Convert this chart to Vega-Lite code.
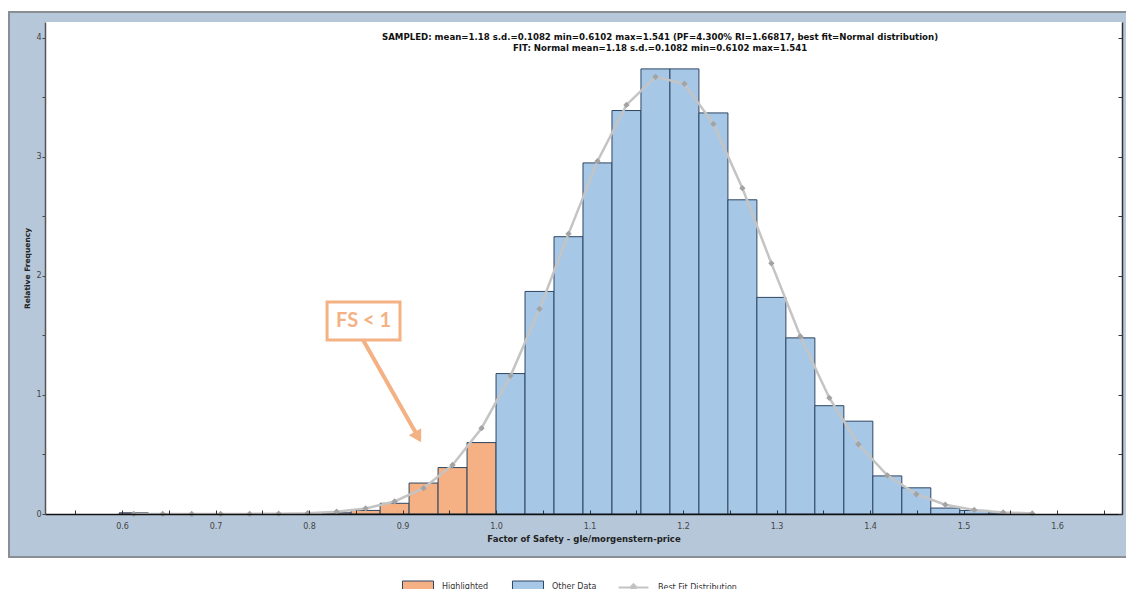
{
  "$schema": "https://vega.github.io/schema/vega-lite/v6.json",
  "width": 1077,
  "height": 492,
  "autosize": {"type": "none"},
  "padding": {"left": 45, "top": 22, "right": 4, "bottom": 75},
  "background": "#ffffff",
  "config": {"view": {"stroke": null}, "font": "DejaVu Sans"},
  "datasets": {
    "one": [{}],
    "bars": [
      {"bin0": 0.597, "bin1": 0.628, "freq": 0.01, "series": "Highlighted"},
      {"bin0": 0.814, "bin1": 0.845, "freq": 0.01, "series": "Highlighted"},
      {"bin0": 0.845, "bin1": 0.876, "freq": 0.03, "series": "Highlighted"},
      {"bin0": 0.876, "bin1": 0.907, "freq": 0.09, "series": "Highlighted"},
      {"bin0": 0.907, "bin1": 0.938, "freq": 0.26, "series": "Highlighted"},
      {"bin0": 0.938, "bin1": 0.969, "freq": 0.39, "series": "Highlighted"},
      {"bin0": 0.969, "bin1": 1.0, "freq": 0.6, "series": "Highlighted"},
      {"bin0": 1.0, "bin1": 1.031, "freq": 1.18, "series": "Other Data"},
      {"bin0": 1.031, "bin1": 1.062, "freq": 1.87, "series": "Other Data"},
      {"bin0": 1.062, "bin1": 1.093, "freq": 2.33, "series": "Other Data"},
      {"bin0": 1.093, "bin1": 1.124, "freq": 2.95, "series": "Other Data"},
      {"bin0": 1.124, "bin1": 1.155, "freq": 3.39, "series": "Other Data"},
      {"bin0": 1.155, "bin1": 1.186, "freq": 3.74, "series": "Other Data"},
      {"bin0": 1.186, "bin1": 1.217, "freq": 3.74, "series": "Other Data"},
      {"bin0": 1.217, "bin1": 1.248, "freq": 3.37, "series": "Other Data"},
      {"bin0": 1.248, "bin1": 1.279, "freq": 2.64, "series": "Other Data"},
      {"bin0": 1.279, "bin1": 1.31, "freq": 1.82, "series": "Other Data"},
      {"bin0": 1.31, "bin1": 1.341, "freq": 1.48, "series": "Other Data"},
      {"bin0": 1.341, "bin1": 1.372, "freq": 0.91, "series": "Other Data"},
      {"bin0": 1.372, "bin1": 1.403, "freq": 0.78, "series": "Other Data"},
      {"bin0": 1.403, "bin1": 1.434, "freq": 0.32, "series": "Other Data"},
      {"bin0": 1.434, "bin1": 1.465, "freq": 0.22, "series": "Other Data"},
      {"bin0": 1.465, "bin1": 1.496, "freq": 0.05, "series": "Other Data"},
      {"bin0": 1.496, "bin1": 1.527, "freq": 0.03, "series": "Other Data"},
      {"bin0": 1.527, "bin1": 1.558, "freq": 0.01, "series": "Other Data"}
    ],
    "fit": [
      {"x": 0.6125, "fit": 0.0, "curve": "Best Fit Distribution"},
      {"x": 0.6435, "fit": 0.0, "curve": "Best Fit Distribution"},
      {"x": 0.6745, "fit": 0.0001, "curve": "Best Fit Distribution"},
      {"x": 0.7055, "fit": 0.0002, "curve": "Best Fit Distribution"},
      {"x": 0.7365, "fit": 0.0008, "curve": "Best Fit Distribution"},
      {"x": 0.7675, "fit": 0.0026, "curve": "Best Fit Distribution"},
      {"x": 0.7985, "fit": 0.0073, "curve": "Best Fit Distribution"},
      {"x": 0.8295, "fit": 0.019, "curve": "Best Fit Distribution"},
      {"x": 0.8605, "fit": 0.047, "curve": "Best Fit Distribution"},
      {"x": 0.8915, "fit": 0.105, "curve": "Best Fit Distribution"},
      {"x": 0.9225, "fit": 0.217, "curve": "Best Fit Distribution"},
      {"x": 0.9535, "fit": 0.412, "curve": "Best Fit Distribution"},
      {"x": 0.9845, "fit": 0.721, "curve": "Best Fit Distribution"},
      {"x": 1.0155, "fit": 1.161, "curve": "Best Fit Distribution"},
      {"x": 1.0465, "fit": 1.723, "curve": "Best Fit Distribution"},
      {"x": 1.0775, "fit": 2.354, "curve": "Best Fit Distribution"},
      {"x": 1.1085, "fit": 2.964, "curve": "Best Fit Distribution"},
      {"x": 1.1395, "fit": 3.437, "curve": "Best Fit Distribution"},
      {"x": 1.1705, "fit": 3.673, "curve": "Best Fit Distribution"},
      {"x": 1.2015, "fit": 3.615, "curve": "Best Fit Distribution"},
      {"x": 1.2325, "fit": 3.278, "curve": "Best Fit Distribution"},
      {"x": 1.2635, "fit": 2.738, "curve": "Best Fit Distribution"},
      {"x": 1.2945, "fit": 2.106, "curve": "Best Fit Distribution"},
      {"x": 1.3255, "fit": 1.493, "curve": "Best Fit Distribution"},
      {"x": 1.3565, "fit": 0.975, "curve": "Best Fit Distribution"},
      {"x": 1.3875, "fit": 0.586, "curve": "Best Fit Distribution"},
      {"x": 1.4185, "fit": 0.325, "curve": "Best Fit Distribution"},
      {"x": 1.4495, "fit": 0.166, "curve": "Best Fit Distribution"},
      {"x": 1.4805, "fit": 0.078, "curve": "Best Fit Distribution"},
      {"x": 1.5115, "fit": 0.034, "curve": "Best Fit Distribution"},
      {"x": 1.5425, "fit": 0.0135, "curve": "Best Fit Distribution"},
      {"x": 1.5735, "fit": 0.0049, "curve": "Best Fit Distribution"}
    ]
  },
  "resolve": {"axis": {"x": "independent", "y": "independent"}},
  "layer": [
    {
      "data": {"name": "one"},
      "mark": {"type": "rect", "clip": false, "fill": "#b6c7d9", "stroke": "#8a8f96", "strokeWidth": 2},
      "encoding": {
        "x": {"datum": 0.4791, "type": "quantitative", "scale": {"domain": [0.5176, 1.6695], "nice": false, "zero": false}, "axis": null},
        "x2": {"datum": 1.69},
        "y": {"datum": 4.218, "type": "quantitative", "scale": {"domain": [0, 4.134], "nice": false, "zero": false}, "axis": null},
        "y2": {"datum": -0.361}
      }
    },
    {
      "data": {"name": "one"},
      "mark": {"type": "rect", "clip": false, "fill": "#ffffff"},
      "encoding": {
        "x": {"datum": 0.5176, "type": "quantitative", "axis": null},
        "x2": {"datum": 1.6695},
        "y": {"datum": 4.134, "type": "quantitative", "axis": null},
        "y2": {"datum": 0}
      }
    },
    {
      "data": {"name": "bars"},
      "mark": {"type": "rect", "stroke": "#2d4563", "strokeWidth": 1, "opacity": 1},
      "encoding": {
        "x": {"field": "bin0", "type": "quantitative", "scale": {"domain": [0.5176, 1.6695], "nice": false, "zero": false},
          "axis": {"orient": "bottom", "values": [0.55, 0.6, 0.65, 0.7, 0.75, 0.8, 0.85, 0.9, 0.95, 1.0, 1.05, 1.1, 1.15, 1.2, 1.25, 1.3, 1.35, 1.4, 1.45, 1.5, 1.55, 1.6, 1.65],
            "labelExpr": "abs(datum.value*10 - round(datum.value*10)) < 0.01 ? format(datum.value, '.1f') : ''",
            "grid": false, "zindex": 1, "tickSize": -4, "tickColor": "#333333", "domainColor": "#111111", "domainWidth": 1.5,
            "labelFont": "DejaVu Sans", "labelFontSize": 8, "labelColor": "#444444", "labelPadding": 12, "labelFlush": false, "labelOverlap": false,
            "title": "Factor of Safety - gle/morgenstern-price", "titleFont": "DejaVu Sans", "titleFontSize": 8.5, "titleFontWeight": "bold", "titleColor": "#222222", "titlePadding": 4}},
        "x2": {"field": "bin1"},
        "y": {"field": "freq", "type": "quantitative", "scale": {"domain": [0, 4.134], "nice": false, "zero": false},
          "axis": {"orient": "left", "values": [0, 0.5, 1, 1.5, 2, 2.5, 3, 3.5, 4],
            "labelExpr": "datum.value % 1 == 0 ? format(datum.value, 'd') : ''",
            "grid": false, "zindex": 1, "tickSize": 3, "tickColor": "#444444", "domainColor": "#555555", "domainWidth": 1.5,
            "labelFont": "DejaVu Sans", "labelFontSize": 8, "labelColor": "#444444", "labelPadding": 1,
            "title": "Relative Frequency", "titleFont": "DejaVu Sans", "titleFontSize": 7.5, "titleFontWeight": "bold", "titleColor": "#222222", "titlePadding": 4}},
        "y2": {"datum": 0},
        "color": {"field": "series", "type": "nominal",
          "scale": {"domain": ["Highlighted", "Other Data"], "range": ["#f5b184", "#a7c7e7"]},
          "legend": {"orient": "none", "legendX": 361, "legendY": 553, "direction": "horizontal", "title": null, "padding": 0,
            "labelFont": "DejaVu Sans", "labelFontSize": 8, "labelColor": "#333333", "labelOffset": 12, "columnPadding": 21,
            "symbolSize": 529, "symbolOpacity": 1, "symbolType": "M-1.35,-0.55H1.35V0.55H-1.35Z",
            "symbolStrokeColor": "#2d4563", "symbolStrokeWidth": 1}}
      }
    },
    {
      "data": {"name": "fit"},
      "mark": {"type": "line", "strokeWidth": 2.5},
      "encoding": {
        "x": {"field": "x", "type": "quantitative", "axis": null},
        "y": {"field": "fit", "type": "quantitative", "axis": null},
        "stroke": {"field": "curve", "type": "nominal",
          "scale": {"domain": ["Best Fit Distribution"], "range": ["#c4c4c4"]},
          "legend": {"orient": "none", "legendX": 576, "legendY": 553, "direction": "horizontal", "title": null, "padding": 0,
            "labelFont": "DejaVu Sans", "labelFontSize": 8, "labelColor": "#333333", "labelOffset": 12,
            "symbolSize": 529, "symbolOpacity": 1, "symbolType": "M-1.3,0H1.3M-0.28,0L0,-0.28L0.28,0L0,0.28Z",
            "symbolStrokeWidth": 2, "symbolFillColor": "#a3a3a3"}}
      }
    },
    {
      "data": {"name": "fit"},
      "mark": {"type": "point", "shape": "diamond", "filled": true, "color": "#a3a3a3", "size": 40, "opacity": 1},
      "encoding": {
        "x": {"field": "x", "type": "quantitative", "axis": null},
        "y": {"field": "fit", "type": "quantitative", "axis": null}
      }
    },
    {
      "data": {"name": "one"},
      "mark": {"type": "rect", "fill": "#ffffff", "stroke": "#f4b183", "strokeWidth": 3},
      "encoding": {
        "x": {"datum": 0.8193, "type": "quantitative", "axis": null},
        "x2": {"datum": 0.8973},
        "y": {"datum": 1.782, "type": "quantitative", "axis": null},
        "y2": {"datum": 1.462}
      }
    },
    {
      "data": {"name": "one"},
      "mark": {"type": "text", "text": "FS < 1", "font": "Lato", "fontWeight": "bold", "fontSize": 20, "color": "#f4b183", "align": "center", "baseline": "middle"},
      "encoding": {
        "x": {"datum": 0.8583, "type": "quantitative", "axis": null},
        "y": {"datum": 1.622, "type": "quantitative", "axis": null}
      }
    },
    {
      "data": {"name": "one"},
      "mark": {"type": "rule", "color": "#f4b183", "strokeWidth": 4},
      "encoding": {
        "x": {"datum": 0.8578, "type": "quantitative", "axis": null},
        "y": {"datum": 1.462, "type": "quantitative", "axis": null},
        "x2": {"datum": 0.9155},
        "y2": {"datum": 0.664}
      }
    },
    {
      "data": {"name": "one"},
      "mark": {"type": "point", "shape": "triangle-up", "filled": true, "color": "#f4b183", "size": 200, "angle": 150.6, "opacity": 1},
      "encoding": {
        "x": {"datum": 0.9166, "type": "quantitative", "axis": null},
        "y": {"datum": 0.647, "type": "quantitative", "axis": null}
      }
    },
    {
      "data": {"name": "one"},
      "mark": {"type": "text", "text": ["SAMPLED: mean=1.18 s.d.=0.1082 min=0.6102 max=1.541  (PF=4.300% RI=1.66817, best fit=Normal distribution)", "FIT: Normal mean=1.18 s.d.=0.1082 min=0.6102 max=1.541"],
        "font": "DejaVu Sans", "fontWeight": "bold", "fontSize": 8.6, "color": "#111111", "align": "center", "baseline": "top", "lineHeight": 11},
      "encoding": {
        "x": {"datum": 1.1754, "type": "quantitative", "axis": null},
        "y": {"datum": 4.04, "type": "quantitative",
          "axis": {"orient": "right", "values": [0, 0.5, 1, 1.5, 2, 2.5, 3, 3.5, 4], "labels": false, "title": null, "grid": false, "zindex": 1,
            "tickSize": -4, "tickColor": "#333333", "domainColor": "#333333", "domainWidth": 1.5}}
      }
    }
  ]
}
